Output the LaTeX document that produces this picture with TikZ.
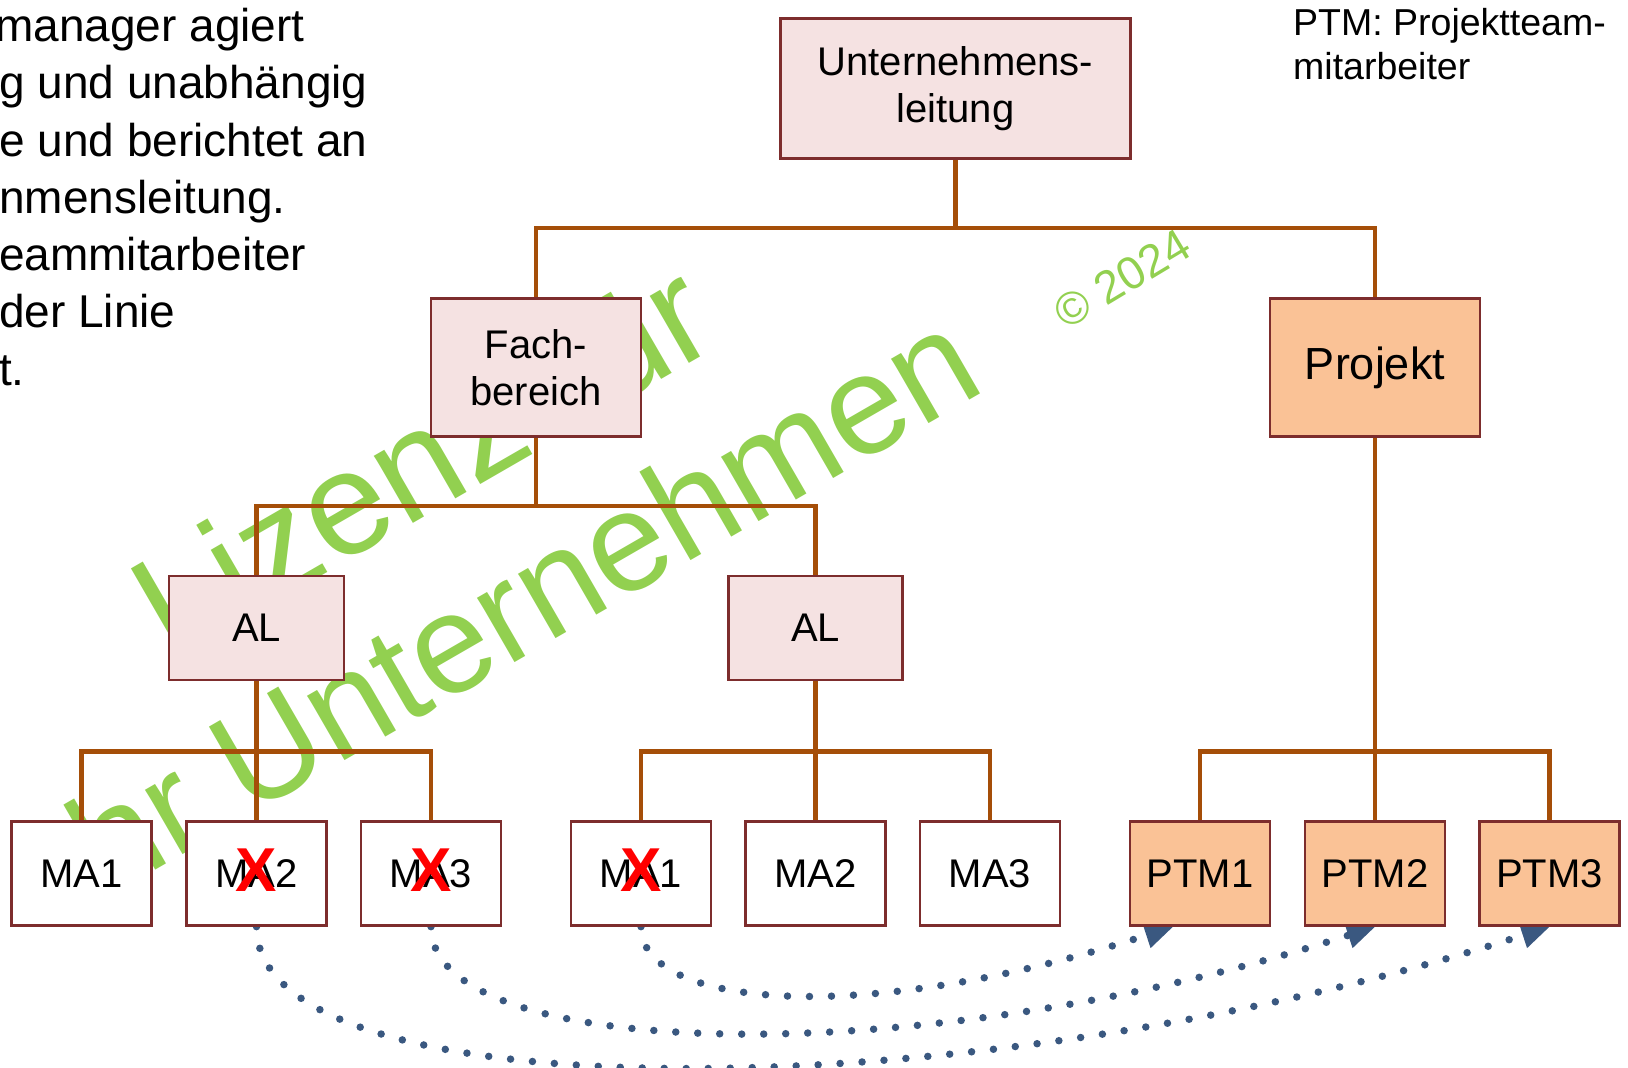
\documentclass[tikz,border=0pt]{standalone}
\usepackage{fontspec}
\setmainfont{Liberation Sans}
\usetikzlibrary{arrows.meta}

\definecolor{boxline}{RGB}{125,45,45}
\definecolor{pinkfill}{RGB}{245,226,226}
\definecolor{orangefill}{RGB}{250,194,150}
\definecolor{connline}{RGB}{165,78,8}
\definecolor{wmgreen}{RGB}{146,208,80}
\definecolor{dotblue}{RGB}{58,88,128}
\definecolor{xred}{RGB}{255,0,0}

\pgfdeclarelayer{wmark}
\pgfdeclarelayer{lines}
\pgfsetlayers{wmark,lines,main}

\begin{document}
\begin{tikzpicture}[x=1pt,y=-1pt,
  box/.style={draw=boxline, line width=2.3pt, inner sep=0pt, align=center,
    font=\fontsize{40}{46.5}\selectfont},
  linebox/.style={box, fill=pinkfill},
  projbox/.style={box, fill=orangefill},
  mabox/.style={box, fill=white, minimum width=140pt, minimum height=104pt},
  ptmbox/.style={mabox, fill=orangefill},
  conn/.style={draw=connline, line width=4.8pt},
  transfer/.style={draw=dotblue, line width=7.5pt, line cap=round,
    dash pattern=on 0pt off 22pt,
    -{Triangle[length=28pt,width=27pt,line width=0pt]}},
  xmark/.style={text=xred, inner sep=0pt, font=\fontsize{62}{64}\selectfont\bfseries},
  note/.style={anchor=base west, inner sep=0pt, font=\fontsize{46}{57}\selectfont},
  legend/.style={anchor=base west, inner sep=0pt, font=\fontsize{37.5}{47}\selectfont},
  wmtext/.style={text=wmgreen, inner sep=0pt}
]
\useasboundingbox (0,0) rectangle (1628,1068);

% explanatory text (left) and legend (right)
\node[note] (t1) at (-5,41.5)  {manager agiert};
\node[note] (t2) at (-1,98.7)  {g und unabhängig};
\node[note] (t3) at (-1,156)   {e und berichtet an};
\node[note] (t4) at (-1,213)   {nmensleitung.};
\node[note] (t5) at (-1,270)   {eammitarbeiter};
\node[note] (t6) at (-1,327.5) {der Linie};
\node[note] (t7) at (-1,385)   {t.};
\node[legend] (lg1) at (1293,35) {PTM: Projektteam-};
\node[legend] (lg2) at (1293,79.5) {mitarbeiter};

% organisation boxes
\node[linebox, minimum width=350pt, minimum height=140pt] (ul) at (955.5,88.5) {\raisebox{-3pt}{\parbox{300pt}{\centering Unternehmens-\\leitung}}};
\node[linebox, minimum width=210pt, minimum height=138pt] (fb) at (536,367.5) {Fach-\\bereich};
\node[projbox, minimum width=210pt, minimum height=138pt, font=\fontsize{45}{50}\selectfont] (pj) at (1375,367.5) {Projekt};
\node[linebox, minimum width=175pt, minimum height=104pt] (a1) at (256.5,628) {AL};
\node[linebox, minimum width=174pt, minimum height=104pt] (a2) at (815.5,628) {AL};

\node[mabox] (m1) at (81.5,873.5)  {MA1};
\node[mabox] (m2) at (256.5,873.5) {MA2};
\node[mabox] (m3) at (431,873.5)   {MA3};
\node[mabox] (n1) at (641,873.5)   {MA1};
\node[mabox] (n2) at (815.5,873.5) {MA2};
\node[mabox] (n3) at (990,873.5)   {MA3};
\node[ptmbox] (p1) at (1200,873.5)  {PTM1};
\node[ptmbox] (p2) at (1375,873.5)  {PTM2};
\node[ptmbox] (p3) at (1549.5,873.5) {PTM3};

% staff moved into the project
\node[xmark] (x1) at ([yshift=3pt]m2.center) {X};
\node[xmark] (x2) at ([yshift=3pt]m3.center) {X};
\node[xmark] (x3) at ([yshift=3pt]n1.center) {X};

% bus levels
\coordinate (b0) at (0,228);
\coordinate (b1) at (0,506);
\coordinate (b2) at (0,751.5);

\begin{pgfonlayer}{wmark}
  \node[wmtext, rotate=30, anchor=base west, font=\fontsize{147}{150}\selectfont] (wm1) at (171,663) {Lizenz für};
  \node[wmtext, rotate=30, anchor=base west, font=\fontsize{141}{150}\selectfont] (wm2) at (72,918) {Ihr Unternehmen};
  \node[wmtext, rotate=31, font=\fontsize{46}{50}\selectfont] (wm3) at (1122,279) {© 2024};
\end{pgfonlayer}

\begin{pgfonlayer}{lines}
  % hierarchy lines
  \draw[conn] (ul.south) -- (ul.south |- b0);
  \draw[conn] (fb.north) |- (pj.north |- b0) -- (pj.north);
  \draw[conn] (fb.south) -- (fb.south |- b1);
  \draw[conn] (a1.north) |- (a2.north |- b1) -- (a2.north);
  \draw[conn] (a1.south) -- (m2.north);
  \draw[conn] (m1.north) |- (m3.north |- b2) -- (m3.north);
  \draw[conn] (a2.south) -- (n2.north);
  \draw[conn] (n1.north) |- (n3.north |- b2) -- (n3.north);
  \draw[conn] (pj.south) -- (p2.north);
  \draw[conn] (p1.north) |- (p3.north |- b2) -- (p3.north);
  % transfers into the project team
  \draw[transfer] (m2.south) .. controls +(0,190) and +(-570.6,185.4) .. (p3.south);
  \draw[transfer] (m3.south) .. controls +(0,135) and +(-456.5,148.3) .. (p2.south);
  \draw[transfer] (n1.south) .. controls +(0,80) and +(-313.8,102) .. ([xshift=-27pt]p1.south);
\end{pgfonlayer}
\end{tikzpicture}
\end{document}
